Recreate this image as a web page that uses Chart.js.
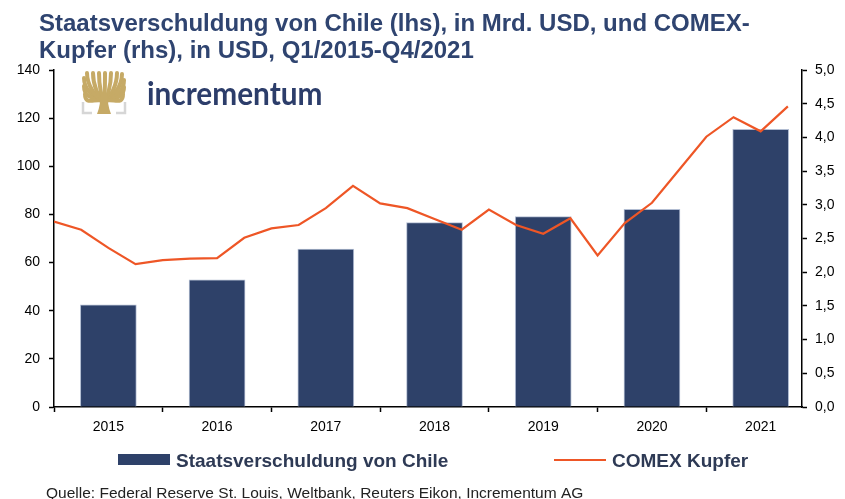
<!DOCTYPE html>
<html lang="de">
<head>
<meta charset="utf-8">
<script src="https://cdn.jsdelivr.net/npm/chart.js@4.4.0/dist/chart.umd.min.js"></script>
<style>
  html, body { margin: 0; padding: 0; background: #fff; }
  #wrap { width: 845px; height: 499px; position: relative; }
</style>
</head>
<body>
<div id="wrap"><canvas id="chileKupfer"></canvas></div>
<script>
// Jahre (Balken) und Quartale (Linie)
const years = ["2015", "2016", "2017", "2018", "2019", "2020", "2021"];
const quarters = years.flatMap(y => ["Q1", "Q2", "Q3", "Q4"].map(q => q + "/" + y));

// Staatsverschuldung Chile, Mrd. USD (lhs)
const debt = [42.4, 52.8, 65.6, 76.6, 79.1, 82.1, 115.4];

// COMEX Kupfer, USD (rhs), quartalsweise
const copper = [
  2.75, 2.63, 2.36, 2.12,
  2.18, 2.20, 2.21, 2.51,
  2.65, 2.70, 2.95, 3.28,
  3.02, 2.95, 2.79, 2.63,
  2.93, 2.70, 2.57, 2.80,
  2.25, 2.73, 3.03, 3.52,
  4.01, 4.30, 4.09, 4.46
];

const leftTicks = [0, 20, 40, 60, 80, 100, 120, 140];
const rightTicks = [0, 0.5, 1, 1.5, 2, 2.5, 3, 3.5, 4, 4.5, 5];

const titleLines = [
  "Staatsverschuldung von Chile (lhs), in Mrd. USD, und COMEX-",
  "Kupfer (rhs), in USD, Q1/2015-Q4/2021"
];
const sourceText = "Quelle: Federal Reserve St. Louis, Weltbank, Reuters Eikon, Incrementum AG";

const NAVY = "#2e4169";
const ORANGE = "#ee5626";
const FONT = "'Liberation Sans', Arial, sans-serif";

// Balken sitzen jeweils auf dem Q3 des Jahres
const debtPoints = years.map((y, i) => ({ x: quarters.indexOf("Q3/" + y), y: debt[i] }));
const copperPoints = copper.map((v, i) => ({ x: i, y: v }));

function drawLogo(ctx) {
  const gold = "#c6aa66";
  // Krone: Äste vom Stamm nach außen
  ctx.strokeStyle = gold;
  ctx.lineCap = "round";
  ctx.lineWidth = 4;
  const ends = [[84, 78], [84, 86], [85, 94], [87, 73], [93, 73], [99, 73], [105, 73],
                [111, 73], [117, 73], [122, 74], [124, 80], [124, 87], [123, 94]];
  ends.forEach(([ex, ey]) => {
    ctx.beginPath();
    ctx.moveTo(104, 101);
    ctx.bezierCurveTo(104 + (ex - 104) * 0.5, 98, ex, ey + 12, ex, ey);
    ctx.stroke();
  });
  ctx.fillStyle = gold;
  ctx.beginPath();
  ctx.moveTo(97, 114);
  ctx.lineTo(111, 114);
  ctx.quadraticCurveTo(107, 104, 108, 94);
  ctx.lineTo(100, 94);
  ctx.quadraticCurveTo(101, 104, 97, 114);
  ctx.closePath();
  ctx.fill();
  // Klammern unten
  ctx.strokeStyle = "#d6d6d6";
  ctx.lineCap = "butt";
  ctx.lineWidth = 2.5;
  ctx.beginPath();
  ctx.moveTo(83, 102); ctx.lineTo(83, 113); ctx.lineTo(92, 113);
  ctx.moveTo(125, 102); ctx.lineTo(125, 113); ctx.lineTo(116, 113);
  ctx.stroke();

  // Schriftzug
  ctx.save();
  ctx.translate(147, 105);
  ctx.scale(0.93, 1);
  ctx.fillStyle = "#2c3d6a";
  ctx.font = "bold 32px Lato, sans-serif";
  ctx.fillText("incrementum", 0, 0);
  ctx.restore();
}

// Titel, Logo, Legende und Quelle
const decorations = {
  id: "decorations",
  afterDraw(chart) {
    const ctx = chart.ctx;
    ctx.save();
    ctx.textBaseline = "alphabetic";
    ctx.textAlign = "left";

    // Titel
    ctx.fillStyle = "#2f4470";
    ctx.font = "bold 24px " + FONT;
    ctx.fillText(titleLines[0], 39, 31);
    ctx.fillText(titleLines[1], 39, 58);

    drawLogo(ctx);

    // Legende
    const bar = chart.data.datasets.find(d => d.type === "bar");
    const line = chart.data.datasets.find(d => d.type === "line");
    ctx.font = "bold 19px " + FONT;
    ctx.fillStyle = bar.backgroundColor;
    ctx.fillRect(118, 454, 52, 11);
    ctx.fillStyle = "#2e3a55";
    ctx.fillText(bar.label, 176, 467);
    ctx.strokeStyle = line.borderColor;
    ctx.lineWidth = 2;
    ctx.beginPath();
    ctx.moveTo(554, 460);
    ctx.lineTo(606, 460);
    ctx.stroke();
    ctx.fillText(line.label, 612, 467);

    // Quelle
    ctx.font = "15.5px " + FONT;
    ctx.fillStyle = "#222";
    ctx.fillText(sourceText, 46, 498);

    ctx.restore();
  }
};

new Chart(document.getElementById("chileKupfer"), {
  type: "line",
  data: {
    datasets: [
      {
        type: "line",
        label: "COMEX Kupfer",
        data: copperPoints,
        xAxisID: "x",
        yAxisID: "y2",
        borderColor: ORANGE,
        borderWidth: 2.2,
        pointRadius: 0,
        tension: 0,
        order: 1
      },
      {
        type: "bar",
        label: "Staatsverschuldung von Chile",
        data: debtPoints,
        xAxisID: "x",
        yAxisID: "y",
        backgroundColor: NAVY,
        borderColor: "rgba(170, 182, 205, 0.9)",
        borderWidth: 1,
        barThickness: 56,
        order: 2
      }
    ]
  },
  options: {
    responsive: true,
    maintainAspectRatio: false,
    animation: false,
    layout: { padding: { top: 70, left: 0, right: 0, bottom: 62 } },
    plugins: {
      legend: { display: false },
      title: { display: false },
      tooltip: { enabled: false }
    },
    scales: {
      x: {
        type: "linear",
        position: "bottom",
        min: 0,
        max: 27.52,
        offset: false,
        afterBuildTicks: scale => {
          scale.ticks = years.flatMap((y, i) => [{ value: i * 4 }, { value: i * 4 + 2 }]);
        },
        afterFit: scale => { scale.height = 30; },
        ticks: {
          autoSkip: false,
          maxRotation: 0,
          padding: 7,
          color: "#000",
          font: { family: FONT, size: 14 },
          callback: v => (v % 4 === 2 ? years[(v - 2) / 4] : "")
        },
        grid: {
          drawOnChartArea: false,
          offset: false,
          tickLength: 5,
          tickWidth: 1.5,
          tickColor: c => (c.tick && c.tick.value % 4 === 2 ? "rgba(0,0,0,0)" : "#000")
        },
        border: { color: "#000", width: 1.5 }
      },
      y: {
        position: "left",
        min: 0,
        max: 140,
        afterBuildTicks: scale => { scale.ticks = leftTicks.map(v => ({ value: v })); },
        afterFit: scale => { scale.width = 54; },
        ticks: {
          padding: 9,
          color: "#000",
          font: { family: FONT, size: 14 }
        },
        grid: { drawOnChartArea: false, tickLength: 5, tickWidth: 1.5, tickColor: "#000" },
        border: { color: "#000", width: 1.5 }
      },
      y2: {
        position: "right",
        min: 0,
        max: 5,
        afterBuildTicks: scale => { scale.ticks = rightTicks.map(v => ({ value: v })); },
        afterFit: scale => { scale.width = 43; },
        ticks: {
          padding: 8,
          color: "#000",
          font: { family: FONT, size: 14 },
          callback: v => v.toFixed(1).replace(".", ",")
        },
        grid: { drawOnChartArea: false, tickLength: 5, tickWidth: 1.5, tickColor: "#000" },
        border: { color: "#000", width: 1.5 }
      }
    }
  },
  plugins: [decorations]
});
</script>
</body>
</html>
